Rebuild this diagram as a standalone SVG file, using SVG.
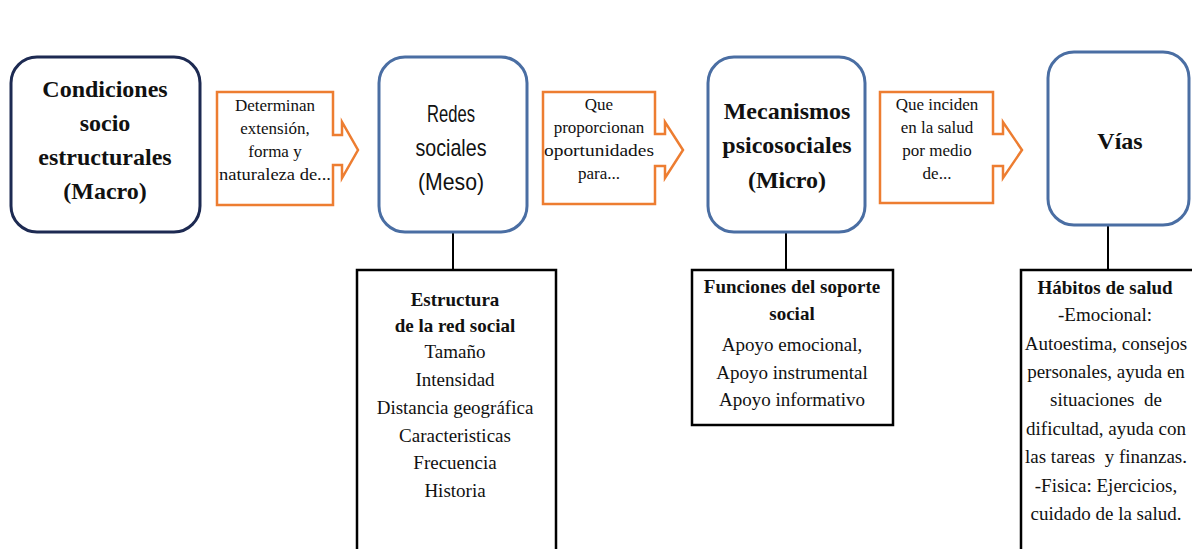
<svg xmlns="http://www.w3.org/2000/svg" width="1192" height="549" viewBox="0 0 1192 549">
<style>
.top{fill:#fff;stroke-width:3}
.navy{stroke:#1d2a52}
.blue{stroke:#4a6ea3}
.call{fill:#fff;stroke:#ed7d31;stroke-width:2.5;stroke-linejoin:miter}
.box{fill:#fff;stroke:#000;stroke-width:2.5}
.conn{stroke:#000;stroke-width:2}
.bs{font-family:"Liberation Serif","Times New Roman",serif;font-weight:bold;font-size:24px;fill:#111;text-anchor:middle}
.ss{font-family:"Liberation Sans",Arial,sans-serif;font-size:24px;fill:#111;text-anchor:middle}
.cs{font-family:"Liberation Serif","Times New Roman",serif;font-size:17px;fill:#111;text-anchor:middle}
.t{font-family:"Liberation Serif","Times New Roman",serif;font-size:19px;fill:#111;text-anchor:middle}
.tb{font-weight:bold}
</style>
<rect width="1192" height="549" fill="#fff"/>
<g id="connectors">
<line class="conn" x1="453" y1="232" x2="453" y2="270"/>
<line class="conn" x1="786" y1="232" x2="786" y2="270"/>
<line class="conn" x1="1108" y1="225" x2="1108" y2="270"/>
</g>
<g id="n-macro">
<rect class="top navy" x="11" y="57" width="189" height="175" rx="26"/>
<text class="bs" x="105" y="97">Condiciones</text>
<text class="bs" x="105" y="131">socio</text>
<text class="bs" x="105" y="165">estructurales</text>
<text class="bs" x="105" y="199">(Macro)</text>
</g>
<g id="c-1">
<path class="call" d="M217,92 H333 V135 H342 V122 L358,150 L342,178 V165 H333 V205 H217 Z"/>
<text class="cs" x="275" y="111">Determinan</text>
<text class="cs" x="275" y="134">extensión,</text>
<text class="cs" x="275" y="157">forma y</text>
<text class="cs" x="275" y="180" textLength="112" lengthAdjust="spacingAndGlyphs">naturaleza de...</text>
</g>
<g id="n-meso">
<rect class="top blue" x="379" y="57" width="148" height="175" rx="26"/>
<text class="ss" x="451" y="122" textLength="48" lengthAdjust="spacingAndGlyphs">Redes</text>
<text class="ss" x="451" y="156" textLength="71" lengthAdjust="spacingAndGlyphs">sociales</text>
<text class="ss" x="451" y="190" textLength="66" lengthAdjust="spacingAndGlyphs">(Meso)</text>
</g>
<g id="c-2">
<path class="call" d="M543,92 H655 V134 H665 V122 L683,150 L665,178 V166 H655 V204 H543 Z"/>
<text class="cs" x="599" y="110">Que</text>
<text class="cs" x="599" y="133">proporcionan</text>
<text class="cs" x="599" y="156" textLength="110" lengthAdjust="spacingAndGlyphs">oportunidades</text>
<text class="cs" x="599" y="179">para...</text>
</g>
<g id="n-micro">
<rect class="top blue" x="708" y="57" width="157" height="175" rx="26"/>
<text class="bs" x="787" y="119">Mecanismos</text>
<text class="bs" x="787" y="153">psicosociales</text>
<text class="bs" x="787" y="188">(Micro)</text>
</g>
<g id="c-3">
<path class="call" d="M880,92 H993 V134 H1003 V122 L1022,150 L1003,178 V166 H993 V203 H880 Z"/>
<text class="cs" x="937" y="110">Que inciden</text>
<text class="cs" x="937" y="133">en la salud</text>
<text class="cs" x="937" y="156">por medio</text>
<text class="cs" x="937" y="179">de...</text>
</g>
<g id="n-vias">
<rect class="top blue" x="1048" y="52" width="141" height="173" rx="26"/>
<text class="bs" x="1120" y="149">Vías</text>
</g>
<g id="b-estructura">
<rect class="box" x="357" y="270" width="199" height="285"/>
<text class="t tb" x="455" y="306">Estructura</text>
<text class="t tb" x="455" y="332">de la red social</text>
<text class="t" x="455" y="358">Tamaño</text>
<text class="t" x="455" y="386">Intensidad</text>
<text class="t" x="455" y="414">Distancia geográfica</text>
<text class="t" x="455" y="442">Caracteristicas</text>
<text class="t" x="455" y="469">Frecuencia</text>
<text class="t" x="455" y="497">Historia</text>
</g>
<g id="b-funciones">
<rect class="box" x="692" y="270" width="201" height="155"/>
<text class="t tb" x="792" y="293">Funciones del soporte</text>
<text class="t tb" x="792" y="320">social</text>
<text class="t" x="792" y="351">Apoyo emocional,</text>
<text class="t" x="792" y="379">Apoyo instrumental</text>
<text class="t" x="792" y="406">Apoyo informativo</text>
</g>
<g id="b-habitos">
<rect class="box" x="1021" y="270" width="185" height="290"/>
<text class="t tb" x="1105" y="294">Hábitos de salud</text>
<text class="t" x="1105" y="321">-Emocional:</text>
<text class="t" x="1106" y="350">Autoestima, consejos</text>
<text class="t" x="1106" y="378">personales, ayuda en</text>
<text class="t" x="1106" y="406" xml:space="preserve">situaciones  de</text>
<text class="t" x="1106" y="435">dificultad, ayuda con</text>
<text class="t" x="1106" y="463" xml:space="preserve">las tareas  y finanzas.</text>
<text class="t" x="1106" y="492">-Fisica: Ejercicios,</text>
<text class="t" x="1106" y="520">cuidado de la salud.</text>
</g>
</svg>
